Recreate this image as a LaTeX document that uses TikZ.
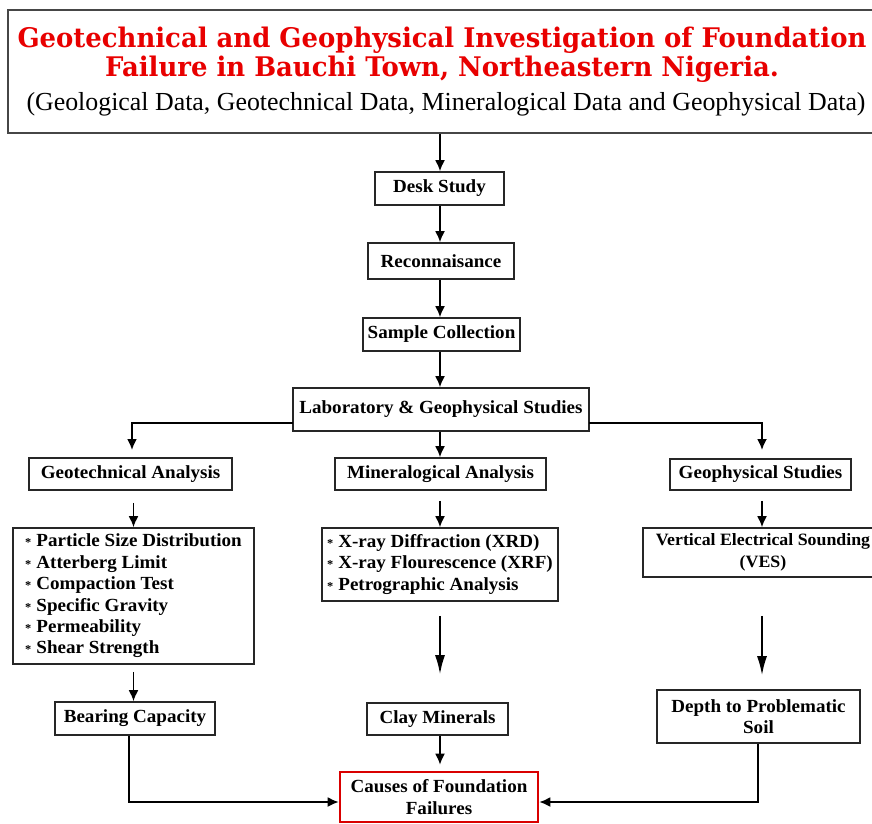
\documentclass[tikz,border=0pt]{standalone}
\usepackage{fontspec}
\setmainfont{Liberation Serif}[FakeStretch=1.03]
\newfontfamily\titlefont{DejaVu Serif}[FakeStretch=0.96]
\newfontfamily\subfont{Liberation Serif}[FakeStretch=0.995]
\usetikzlibrary{arrows.meta,calc}
\definecolor{titlered}{RGB}{232,0,0}
\definecolor{framegray}{RGB}{70,70,70}
\newcommand{\bul}{{\fontsize{12}{12}\selectfont *}\hspace{5pt}}
\begin{document}
\begin{tikzpicture}[x=1pt,y=-1pt,
  box/.style={draw=black!85, line width=1.6pt, fill=white, inner sep=0pt, align=center,
    font=\fontsize{18.5}{21.4}\selectfont\bfseries},
  listbox/.style={box, align=left},
  arr/.style={-{Latex[length=11pt,width=10pt]}, line width=1.8pt},
  longarr/.style={-{Latex[length=19pt,width=10pt]}, line width=1.8pt}]
\useasboundingbox (0,0) rectangle (872,823);
\clip (0,0) rectangle (872,823);
\fill[white] (0,0) rectangle (872,823);

% title
\node[draw=framegray, line width=2pt, minimum width=868pt, minimum height=123pt, inner sep=0pt] (title) at (442,71.5) {};
\node[anchor=base, inner sep=0pt, text=titlered, font=\titlefont\fontsize{27}{27}\selectfont\bfseries] (t1) at (442,47) {Geotechnical and Geophysical Investigation of Foundation};
\node[anchor=base, inner sep=0pt, text=titlered, font=\titlefont\fontsize{27}{27}\selectfont\bfseries] (t2) at (442,76) {Failure in Bauchi Town, Northeastern Nigeria.};
\node[anchor=base, inner sep=0pt, font=\subfont\fontsize{26}{26}\selectfont] (t3) at (446,110) {(Geological Data, Geotechnical Data, Mineralogical Data and Geophysical Data)};

% main chain
\node[box, minimum width=129pt, minimum height=33pt] (desk) at (439.5,188.5) {Desk Study};
\node[box, minimum width=146pt, minimum height=36pt] (recon) at (441,261) {Reconnaisance};
\node[box, minimum width=157pt, minimum height=33pt] (sample) at (441.5,334.5) {Sample Collection};
\node[box, minimum width=296pt, minimum height=43pt] (lab) at (441,409.5) {Laboratory \& Geophysical Studies};

% second row
\node[box, minimum width=203pt, minimum height=32pt] (geot) at (130.5,474) {Geotechnical Analysis};
\node[box, minimum width=211pt, minimum height=32pt] (mina) at (440.5,474) {Mineralogical Analysis};
\node[box, minimum width=181pt, minimum height=31pt] (geop) at (760.5,474.5) {Geophysical Studies};

% lists
\node[listbox, minimum width=241pt, minimum height=136pt] (glist) at (133.5,596)
 {\bul Particle Size Distribution\\ \bul Atterberg Limit\\ \bul Compaction Test\\ \bul Specific Gravity\\ \bul Permeability\\ \bul Shear Strength};
\node[listbox, minimum width=236pt, minimum height=73pt] (mlist) at (440,564.5)
 {\bul X-ray Diffraction (XRD)\\ \bul X-ray Flourescence (XRF)\\ \bul Petrographic Analysis};
\node[box, minimum width=240pt, minimum height=49pt, font=\fontsize{17.3}{21.4}\selectfont\bfseries] (ves) at (763,552.5) {Vertical Electrical Sounding\\(VES)};

% results
\node[box, minimum width=160pt, minimum height=33pt] (bear) at (135,718.5) {Bearing Capacity};
\node[box, minimum width=141pt, minimum height=32pt] (clay) at (437.5,719) {Clay Minerals};
\node[box, minimum width=203pt, minimum height=53pt] (depth) at (758.5,716.5) {Depth to Problematic\\Soil};
\node[box, draw=red!85!black, line width=2.6pt, minimum width=198pt, minimum height=50pt] (causes) at (439,797) {Causes of Foundation\\Failures};

% connectors
\coordinate (c0) at (440,133);
\coordinate (lw) at (293,423);
\coordinate (le) at (589,423);
\coordinate (gl) at (132,458);
\coordinate (gr) at (762,458);
\coordinate (bl) at (129,802);
\coordinate (br) at (758,802);
\draw[arr] (title.south -| c0) -- (c0 |- desk.north);
\draw[arr] (desk.south -| c0) -- (c0 |- recon.north);
\draw[arr] (recon.south -| c0) -- (c0 |- sample.north);
\draw[arr] (sample.south -| c0) -- (c0 |- lab.north);
\draw[arr] (lab.south -| c0) -- (c0 |- mina.north);
\draw[arr, shorten >=8pt] (lw) -| (gl);
\draw[arr, shorten >=8pt] (le) -| (gr);
\draw[arr, shorten <=12pt] (glist.north |- geot.south) -- (glist.north);
\draw[arr, shorten <=10pt] (geot.south -| c0) -- (c0 |- mlist.north);
\draw[arr, shorten <=10pt] (geop.south -| gr) -- (gr |- ves.north);
\draw[arr, shorten <=7pt] (glist.south) -- (glist.south |- bear.north);
\draw[longarr, shorten <=14pt, shorten >=28pt] (mlist.south -| c0) -- (c0 |- clay.north);
\draw[longarr, shorten <=38pt, shorten >=14pt] (ves.south -| gr) -- (gr |- depth.north);
\draw[arr, shorten >=6pt] (clay.south -| c0) -- (c0 |- causes.north);
\draw[arr] (bear.south -| bl) -- (bl) -- (causes.west |- bl);
\draw[arr] (depth.south -| br) -- (br) -- (causes.east |- br);
\end{tikzpicture}
\end{document}
